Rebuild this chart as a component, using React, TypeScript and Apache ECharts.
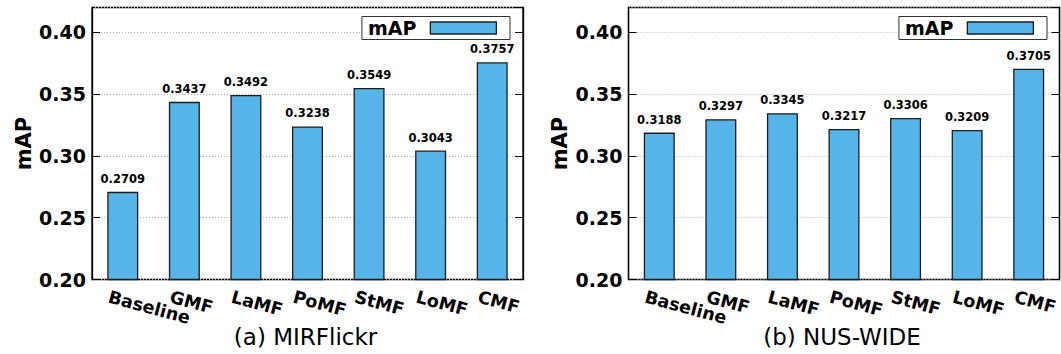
import React, { useEffect, useRef } from "react";
import * as echarts from "echarts";

const categories = ["Baseline", "GMF", "LaMF", "PoMF", "StMF", "LoMF", "CMF"];
const mirflickrValues = [0.2709, 0.3437, 0.3492, 0.3238, 0.3549, 0.3043, 0.3757];
const nuswideValues = [0.3188, 0.3297, 0.3345, 0.3217, 0.3306, 0.3209, 0.3705];
const panelTitles = ["(a) MIRFlickr", "(b) NUS-WIDE"];
const seriesName = "mAP";
const yMin = 0.2;
const yMax = 0.42;
const yStep = 0.05;

const FONT = "DejaVu Sans";
const BAR_COLOR = "#56B4E9";

export default function App() {
  const ref = useRef<HTMLDivElement>(null);

  useEffect(() => {
    if (!ref.current) return;
    const chart = echarts.init(ref.current, undefined, { renderer: "svg" });

    const panels = [
      { left: 92, values: mirflickrValues, legendRight: 551, title: panelTitles[0] },
      { left: 628.5, values: nuswideValues, legendRight: 14, title: panelTitles[1] },
    ];
    const top = 7.5;
    const height = 272;
    const width = 431;
    const labelShift = 14;

    const grid: any[] = [];
    const xAxis: any[] = [];
    const yAxis: any[] = [];
    const series: any[] = [];
    const legend: any[] = [];
    const graphic: any[] = [];

    panels.forEach((p) => {
      const gBars = grid.length;
      grid.push({
        left: p.left,
        top,
        width,
        height,
        show: true,
        borderColor: "#000",
        borderWidth: 1.3,
        backgroundColor: "transparent",
        containLabel: false,
      });
      const gLabels = grid.length;
      grid.push({ left: p.left - labelShift, top, width, height, show: false });

      const xBars = xAxis.length;
      xAxis.push({
        gridIndex: gBars,
        type: "category",
        data: categories,
        axisLine: { show: false },
        axisTick: { show: false },
        axisLabel: { show: false },
        splitLine: { show: false },
      });
      xAxis.push({
        gridIndex: gLabels,
        type: "category",
        data: categories,
        axisLine: { show: false },
        axisTick: { show: false },
        splitLine: { show: false },
        axisLabel: {
          show: true,
          interval: 0,
          rotate: -15,
          margin: 17,
          color: "#000",
          fontFamily: FONT,
          fontWeight: "bold",
          fontSize: 17.5,
        },
      });

      const yLeft = yAxis.length;
      yAxis.push({
        gridIndex: gBars,
        type: "value",
        min: yMin,
        max: yMax,
        interval: yStep,
        name: seriesName,
        nameLocation: "middle",
        nameGap: 58,
        nameTextStyle: { color: "#000", fontFamily: FONT, fontWeight: "bold", fontSize: 21 },
        axisLine: { show: true, lineStyle: { color: "#000", width: 1.3 } },
        axisTick: { show: true, inside: true, length: 8, lineStyle: { color: "#000", width: 1 } },
        axisLabel: {
          show: true,
          showMaxLabel: false,
          margin: 6,
          color: "#000",
          fontFamily: FONT,
          fontWeight: "bold",
          fontSize: 19,
          formatter: (v: number) => v.toFixed(2),
        },
        splitLine: { show: true, lineStyle: { color: "#b0b0b0", width: 1, type: [1, 2] } },
      });
      yAxis.push({
        gridIndex: gBars,
        type: "value",
        position: "right",
        min: yMin,
        max: yMax,
        interval: yStep,
        axisLine: { show: true, lineStyle: { color: "#000", width: 1.3 } },
        axisTick: { show: true, inside: true, length: 8, lineStyle: { color: "#000", width: 1 } },
        axisLabel: { show: false },
        splitLine: { show: false },
      });
      yAxis.push({ gridIndex: gLabels, type: "value", min: yMin, max: yMax, show: false });

      series.push({
        name: seriesName,
        type: "bar",
        xAxisIndex: xBars,
        yAxisIndex: yLeft,
        data: p.values,
        barWidth: 31,
        itemStyle: { color: BAR_COLOR, borderColor: "#1c1c1c", borderWidth: 1.3 },
        label: {
          show: true,
          position: "top",
          distance: 7,
          color: "#000",
          fontFamily: FONT,
          fontWeight: "bold",
          fontSize: 11.5,
          formatter: (d: any) => Number(d.value).toFixed(4),
        },
      });

      legend.push({
        data: [{ name: seriesName, icon: "rect" }],
        right: p.legendRight,
        top: 16.5,
        orient: "horizontal",
        align: "right",
        icon: "rect",
        itemWidth: 66,
        itemHeight: 12,
        padding: [2, 13, 2, 6],
        backgroundColor: "#fff",
        borderColor: "#333",
        borderWidth: 1,
        borderRadius: 0,
        selectedMode: false,
        itemStyle: { color: BAR_COLOR, borderColor: "#1c1c1c", borderWidth: 1.3 },
        textStyle: {
          color: "#000",
          fontFamily: FONT,
          fontWeight: "bold",
          fontSize: 19,
          padding: [0, 9, 0, 0],
        },
      });

      graphic.push({
        type: "text",
        x: p.left + width / 2 - 2,
        y: 325,
        style: {
          text: p.title,
          fontFamily: FONT,
          fontSize: 23,
          fill: "#000",
          align: "center",
          verticalAlign: "top",
        },
      });
    });

    chart.setOption({
      animation: false,
      backgroundColor: "#fff",
      textStyle: { fontFamily: FONT },
      grid,
      xAxis,
      yAxis,
      series,
      legend,
      graphic,
    });

    return () => chart.dispose();
  }, []);

  return (
    <div
      ref={ref}
      style={{ position: "fixed", left: 0, top: 0, width: 1061, height: 354, background: "#fff" }}
    />
  );
}
